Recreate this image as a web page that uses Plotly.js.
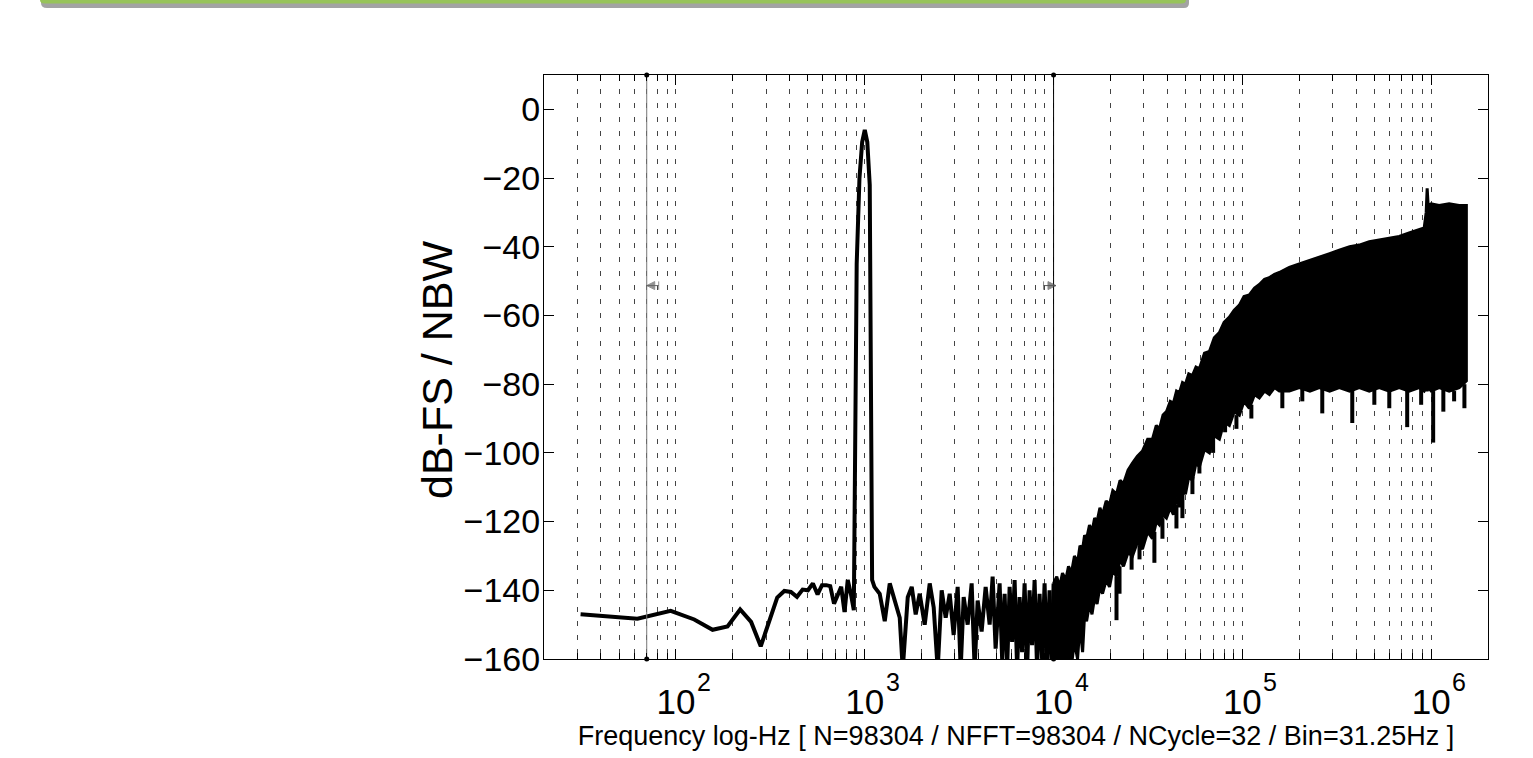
<!DOCTYPE html>
<html>
<head>
<meta charset="utf-8">
<script src="https://cdn.plot.ly/plotly-3.0.1.min.js"></script>
<style>
  html, body { margin: 0; padding: 0; background: #fff; }
  #chart { width: 1533px; height: 758px; }
</style>
</head>
<body>
<div id="chart"></div>
<script>
// ---------------- data ----------------
// individual FFT bins below ~1.1 kHz (Bin = 31.25 Hz), incl. the 1 kHz tone
const lowHz = [31.25, 62.5, 93.75, 125, 156.25, 187.5, 218.75, 250, 281.25, 312.5,
  343.75, 375, 406.25, 437.5, 468.75, 500, 531.25, 562.5, 593.75, 625,
  656.25, 687.5, 718.75, 750, 781.25, 812.5, 843.75, 875, 906.25, 937.5,
  968.75, 1000, 1031.25, 1062.5, 1093.75, 1125];
const lowDb = [-147.0, -148.3, -146.0, -148.5, -151.5, -150.5, -145.6, -149.2, -156.3, -148.7,
  -142.1, -140.2, -140.5, -141.9, -139.8, -140.0, -138.0, -141.2, -138.5, -138.5,
  -138.8, -143.9, -141.0, -139.0, -146.3, -137.0, -141.0, -145.8, -45.0, -20.0,
  -9.5, -6.0, -9.5, -22.0, -137.0, -139.0];

// noise floor between ~1.2 kHz and 10 kHz
const midHz = [1200, 1276, 1356, 1441, 1532, 1589, 1689, 1773, 1861, 1954,
  2077, 2208, 2318, 2434, 2555, 2683, 2817, 2957, 3105, 3221,
  3341, 3508, 3683, 3819, 3962, 4159, 4368, 4586, 4756, 4933,
  5179, 5340, 5505, 5675, 5851, 6032, 6219, 6411, 6608, 6813,
  7024, 7241, 7464, 7696, 7934, 8179, 8432, 8694, 8962, 9239,
  9524, 9819];
const midDb = [-141, -149, -138, -143, -148, -163, -142, -139, -147, -141,
  -150, -138, -145, -163, -140, -148, -141, -153, -139, -163,
  -142, -150, -138, -163, -143, -152, -139, -150, -136, -157,
  -138, -160, -141, -163, -139, -155, -137, -163, -142, -158,
  -138, -163, -140, -156, -137, -163, -141, -160, -138, -163,
  -140, -163];

// dense band above 10 kHz: upper and lower envelope
const bandHz = [10000, 10400, 10758, 11150, 11600, 12000, 12430, 12900, 13400, 13800,
  14250, 14600, 14960, 15500, 15980, 16500, 17000, 17600, 18170, 19000,
  19790, 20600, 21544, 22500, 23460, 24800, 26180, 27800, 29570, 31500,
  33410, 35000, 36385, 38000, 39620, 41500, 43140, 44800, 46416, 48200,
  49940, 52000, 54380, 56800, 59224, 63000, 66894, 71000, 75560, 80000,
  85340, 90500, 96412, 102000, 108900, 116000, 123000, 131000, 138950, 148000,
  156950, 177300, 200280, 228000, 255500, 290000, 326000, 370000, 416000, 470000,
  530700, 600000, 677000, 764700, 864000, 918300, 940900, 952400, 964100, 1000000,
  1102000, 1245000, 1407000, 1536000];
const bandUpperDb = [-138, -136, -139, -135, -137, -133, -135, -130, -132, -127,
  -128, -124, -125, -121, -123, -119, -120, -116, -118, -114,
  -115, -111, -112, -108, -109, -105, -103, -101, -99.5, -96,
  -96, -92, -93, -89, -88, -85, -85.5, -82, -82.5, -79.5,
  -80, -77, -77.5, -75, -75.5, -71, -70.5, -66.5, -65, -62,
  -60.5, -58.5, -57, -54.5, -54, -52, -51, -49.5, -49, -48,
  -47.5, -46, -45, -44, -43, -42, -41, -40, -39.5, -38.5,
  -38, -37.5, -37, -36, -35, -34.5, -30, -23, -28, -27.5,
  -28, -27.5, -28, -28];
const bandLowerDb = [-163, -160, -163, -158, -163, -157, -162, -155, -160, -150,
  -158, -147, -149, -144, -147, -142, -144, -139, -141, -137,
  -139, -134, -136, -131, -133, -129, -130, -126, -128, -123,
  -125, -120, -121, -118, -119, -116, -118, -113, -115.8, -110,
  -112, -107, -108, -103, -104, -99, -100, -95, -96, -91,
  -92, -88, -89, -85, -87, -83, -84, -82, -83, -81,
  -82, -82, -81, -82, -81, -82, -81, -82, -81, -82,
  -81, -82, -81, -82, -81, -82, -81, -82, -81, -82,
  -81, -82, -81, -79];

// deep downward spikes out of the band
const spikeHz = [21544, 22354, 25900, 28520, 34200, 37730, 44750, 48130, 54380, 59224,
  70000, 81000, 93000, 111600, 162800, 207700, 265000, 382000, 500000, 600000,
  746500, 885000, 1024700, 1160000, 1323000, 1500000];
const spikeTipDb = [-148.7, -141, -134, -131, -132, -125, -122, -119, -112, -106,
  -100, -94, -93, -90, -87, -85, -88.5, -91.3, -86, -87,
  -92.5, -86, -97, -88, -85, -87];
const spikeBaseDb = [-136, -133, -129, -127, -123, -119, -115, -111, -107, -103,
  -96, -91, -89, -86, -82, -81, -81, -81, -81, -81,
  -81, -81, -82, -81, -82, -80];

// analysis band limits (vertical markers) and the arrow marks on them
const bandLimitsHz = [70, 10000];
const arrowLeftHz = [70, 81];
const arrowRightHz = [8850, 10300];
const arrowDb = -51.3;

const yTickVals = [-160, -140, -120, -100, -80, -60, -40, -20, 0];
const xTickVals = [1e2, 1e3, 1e4, 1e5, 1e6];
const xTickBase = ['10', '10', '10', '10', '10'];
const xTickExp = ['2', '3', '4', '5', '6'];
const xTitle = 'Frequency log-Hz [ N=98304 / NFFT=98304 / NCycle=32 / Bin=31.25Hz ]';
const yTitle = 'dB-FS / NBW';

// ---------------- build traces ----------------
const minorVals = [];
for (let d = 10; d <= 1e6; d *= 10) {
  for (let m = 2; m <= 9; m++) {
    const v = m * d;
    if (v > 20 && v < 2e6) minorVals.push(v);
  }
}

const lineStyle = {color: '#000', width: 4};
const traces = [];

traces.push({x: lowHz.concat(midHz), y: lowDb.concat(midDb), mode: 'lines', line: lineStyle,
  hoverinfo: 'skip', showlegend: false});
traces.push({x: [midHz[midHz.length - 1], bandHz[0]], y: [midDb[midDb.length - 1], bandUpperDb[0]],
  mode: 'lines', line: lineStyle, hoverinfo: 'skip', showlegend: false});

const polyX = bandHz.concat(bandHz.slice().reverse());
const polyY = bandUpperDb.concat(bandLowerDb.slice().reverse());
polyX.push(bandHz[0]); polyY.push(bandUpperDb[0]);
traces.push({x: polyX, y: polyY, mode: 'lines', fill: 'toself', fillcolor: '#000',
  line: {color: '#000', width: 3}, hoverinfo: 'skip', showlegend: false});

const sx = [], sy = [];
spikeHz.forEach((f, i) => { sx.push(f, f, null); sy.push(spikeBaseDb[i], spikeTipDb[i], null); });
traces.push({x: sx, y: sy, mode: 'lines', line: {color: '#000', width: 4},
  hoverinfo: 'skip', showlegend: false, connectgaps: false});

const markerColors = ['#777', '#000'];
bandLimitsHz.forEach((f, i) => {
  traces.push({x: [f, f], y: [-160, 10], mode: 'lines+markers',
    line: {color: markerColors[i], width: 1}, marker: {color: '#000', size: 5},
    cliponaxis: false, hoverinfo: 'skip', showlegend: false});
});

traces.push({x: arrowLeftHz, y: [arrowDb, arrowDb], mode: 'lines+markers',
  line: {color: '#666', width: 1},
  marker: {symbol: ['arrow-left', 'line-ns'], size: [8, 6], color: '#666', line: {color: '#666', width: 1}},
  hoverinfo: 'skip', showlegend: false});
traces.push({x: arrowRightHz, y: [arrowDb, arrowDb], mode: 'lines+markers',
  line: {color: '#555', width: 1},
  marker: {symbol: ['line-ns', 'arrow-right'], size: [6, 8], color: '#555', line: {color: '#555', width: 1}},
  hoverinfo: 'skip', showlegend: false});

// geometry of the plot area
const W = 1533, H = 758, L = 544, R = 45, T = 75, B = 99;
const pw = W - L - R, ph = H - T - B;
const px = v => (v - L) / pw;
const py = v => 1 - (v - T) / ph;

const shapes = [
  {type: 'path', xref: 'paper', yref: 'paper', layer: 'above',
   path: `M ${px(41)} ${py(-10)} L ${px(41)} ${py(3)} Q ${px(41)} ${py(8)} ${px(47)} ${py(8)} L ${px(1184)} ${py(8)} Q ${px(1189)} ${py(8)} ${px(1189)} ${py(3)} L ${px(1189)} ${py(-10)} Z`,
   fillcolor: '#a3a3a3', line: {width: 0}},
  {type: 'path', xref: 'paper', yref: 'paper', layer: 'above',
   path: `M ${px(40)} ${py(-10)} L ${px(40)} ${py(0)} Q ${px(40)} ${py(3.5)} ${px(45)} ${py(3.5)} L ${px(1181)} ${py(3.5)} Q ${px(1186)} ${py(3.5)} ${px(1186)} ${py(0)} L ${px(1186)} ${py(-10)} Z`,
   fillcolor: '#97c35a', line: {width: 0}}
];

const fam = 'Liberation Sans, Arial, sans-serif';

const annotations = [];
// exponents of the x tick labels
xTickVals.forEach((v, i) => {
  annotations.push({x: Math.log10(v), xref: 'x', y: 0, yref: 'paper',
    text: xTickExp[i], showarrow: false, xanchor: 'center', yanchor: 'middle',
    xshift: 28, yshift: -23, font: {family: fam, size: 25, color: '#000'}});
});
// y axis title
annotations.push({x: px(437), xref: 'paper', y: py(370), yref: 'paper', text: yTitle,
  textangle: -90, showarrow: false, xanchor: 'center', yanchor: 'middle',
  font: {family: fam, size: 43, color: '#000'}});

const gridDash = '5px,9px';
const layout = {
  width: W, height: H,
  margin: {l: L, r: R, t: T, b: B, pad: 0},
  paper_bgcolor: '#fff', plot_bgcolor: '#fff',
  font: {family: fam, color: '#000'},
  showlegend: false,
  xaxis: {
    type: 'log', range: [Math.log10(20), Math.log10(2e6)], autorange: false,
    tickmode: 'array', tickvals: xTickVals, ticktext: xTickBase,
    ticks: 'inside', ticklen: 10, tickwidth: 1, tickcolor: '#000',
    showline: true, linecolor: '#000', linewidth: 1, mirror: 'ticks',
    showgrid: true, gridcolor: '#444', gridwidth: 1, griddash: gridDash,
    zeroline: false, ticklabelstandoff: 12,
    minor: {tickmode: 'array', tickvals: minorVals, ticks: 'inside', ticklen: 6,
      tickcolor: '#000', tickwidth: 1, showgrid: true, gridcolor: '#444', gridwidth: 1, griddash: gridDash},
    tickfont: {family: fam, size: 35, color: '#000'},
    title: {text: xTitle, font: {family: fam, size: 27, color: '#000'}, standoff: 1},
    automargin: false
  },
  yaxis: {
    range: [-160, 10], autorange: false,
    tickmode: 'array', tickvals: yTickVals,
    ticks: 'inside', ticklen: 10, tickwidth: 1, tickcolor: '#000',
    showline: true, linecolor: '#000', linewidth: 1, mirror: 'ticks',
    showgrid: false, zeroline: false, ticklabelstandoff: -4,
    tickfont: {family: fam, size: 34, color: '#000'},
    automargin: false
  },
  shapes: shapes,
  annotations: annotations
};

Plotly.newPlot('chart', traces, layout, {displayModeBar: false, staticPlot: true});
</script>
</body>
</html>
